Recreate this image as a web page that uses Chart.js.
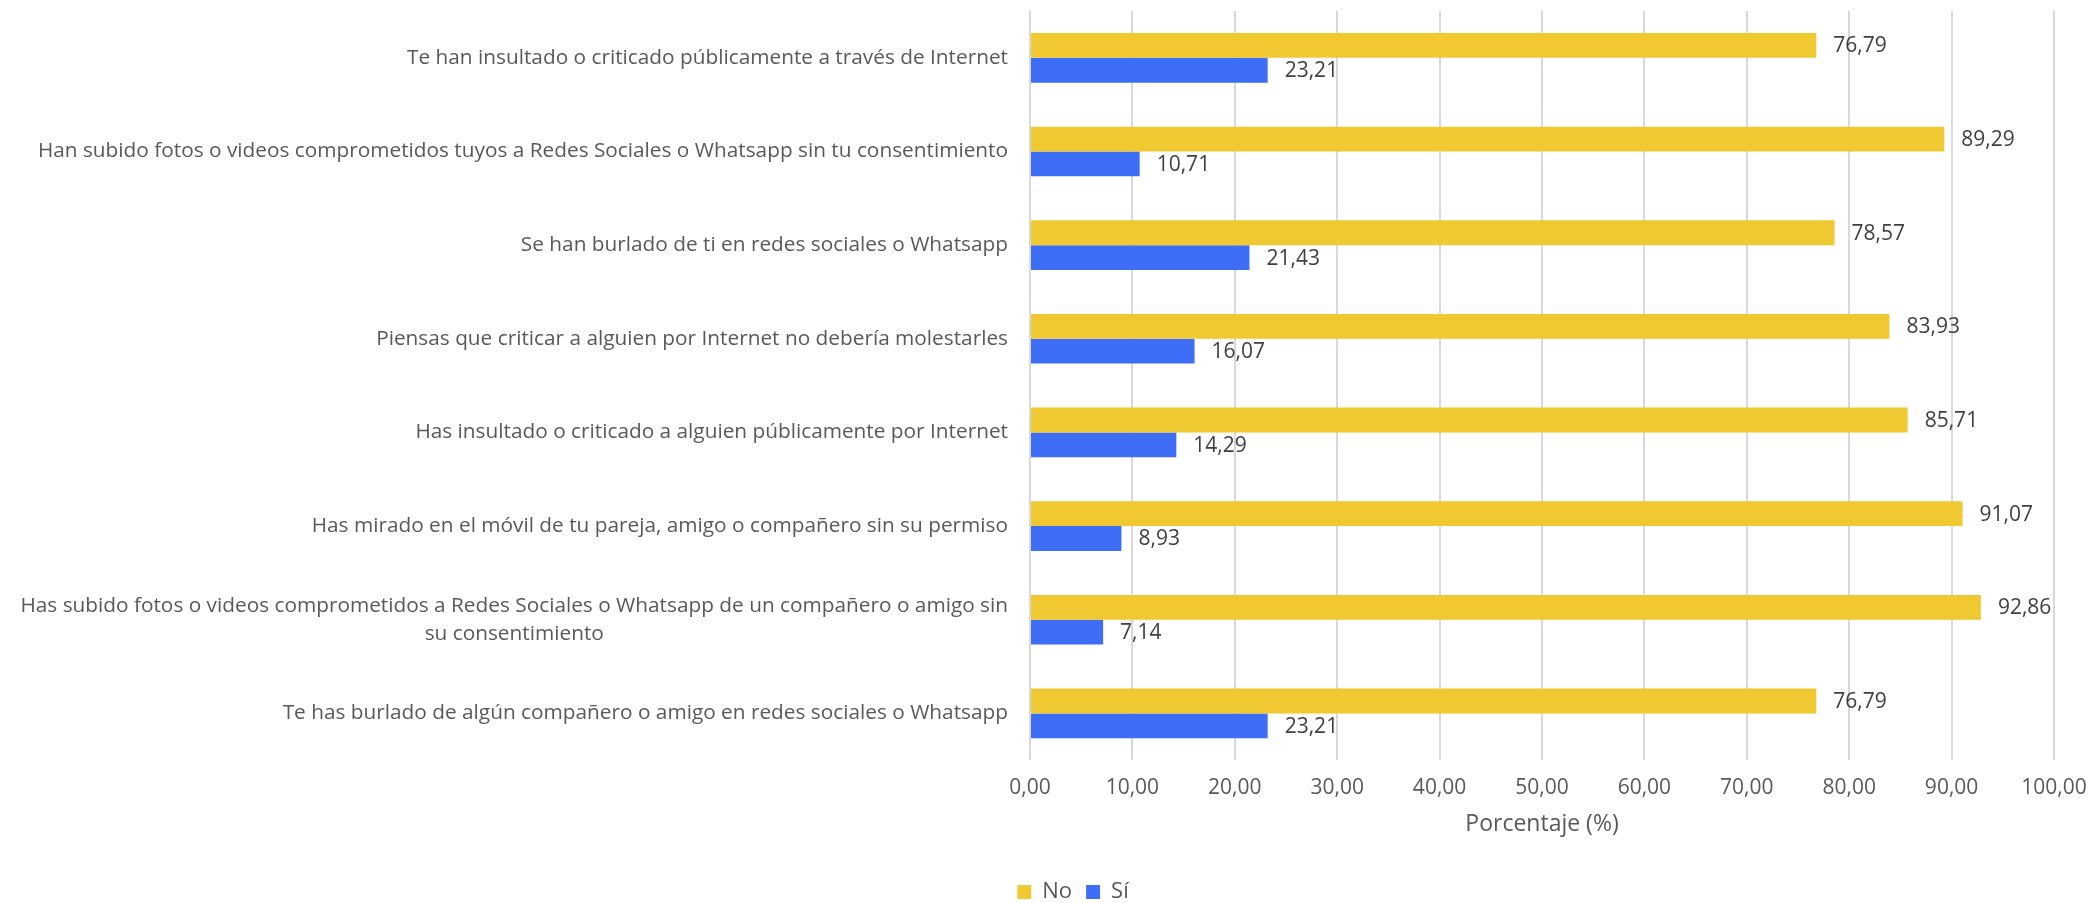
<!DOCTYPE html>
<html>
<head>
<meta charset="utf-8">
<script src="https://cdn.jsdelivr.net/npm/chart.js@4/dist/chart.umd.min.js"></script>
<style>
  body { margin: 0; background: #fff; }
</style>
</head>
<body>
<canvas id="barchart-canvas" width="2093" height="903"></canvas>
<script>
// categories, top to bottom
let categories = [
    'Te han insultado o criticado públicamente a través de Internet',
    'Han subido fotos o videos comprometidos tuyos a Redes Sociales o Whatsapp sin tu consentimiento',
    'Se han burlado de ti en redes sociales o Whatsapp',
    'Piensas que criticar a alguien por Internet no debería molestarles',
    'Has insultado o criticado a alguien públicamente por Internet',
    'Has mirado en el móvil de tu pareja, amigo o compañero sin su permiso',
    ['Has subido fotos o videos comprometidos a Redes Sociales o Whatsapp de un compañero o amigo sin', 'su consentimiento'],
    'Te has burlado de algún compañero o amigo en redes sociales o Whatsapp'
];
let noValues = [76.79, 89.29, 78.57, 83.93, 85.71, 91.07, 92.86, 76.79];
let siValues = [23.21, 10.71, 21.43, 16.07, 14.29, 8.93, 7.14, 23.21];
let xTicks = [0, 10, 20, 30, 40, 50, 60, 70, 80, 90, 100];

let fontFamily = "'Open Sans', 'Noto Sans', sans-serif";

function formatNumber(v) {
    return v.toFixed(2).replace('.', ',');
}

// category labels drawn from the y scale positions (second line centred under the first)
let categoryLabelsPlugin = {
    id: 'categoryLabels',
    afterDraw: function (chart) {
        let ctx = chart.ctx;
        let yScale = chart.scales.y;
        let rightX = chart.chartArea.left - 22;
        ctx.save();
        ctx.font = '20.8px ' + fontFamily;
        ctx.fillStyle = '#595959';
        ctx.textBaseline = 'middle';
        for (let i = 0; i < categories.length; i++) {
            let y = yScale.getPixelForValue(i);
            let label = categories[i];
            if (Array.isArray(label)) {
                let w = ctx.measureText(label[0]).width;
                let center = rightX - w / 2;
                ctx.textAlign = 'center';
                ctx.fillText(label[0], center, y - 14);
                ctx.fillText(label[1], center, y + 14);
            } else {
                ctx.textAlign = 'right';
                ctx.fillText(label, rightX, y);
            }
        }
        ctx.restore();
    }
};

// value labels at the end of each bar
let valueLabelsPlugin = {
    id: 'valueLabels',
    afterDatasetsDraw: function (chart) {
        let ctx = chart.ctx;
        ctx.save();
        ctx.font = '21px ' + fontFamily;
        ctx.fillStyle = '#404040';
        ctx.textAlign = 'left';
        ctx.textBaseline = 'middle';
        chart.data.datasets.forEach(function (ds, di) {
            let meta = chart.getDatasetMeta(di);
            meta.data.forEach(function (bar, i) {
                ctx.fillText(formatNumber(ds.data[i]), bar.x + 17, bar.y + 1);
            });
        });
        ctx.restore();
    }
};

let canvas = document.getElementById('barchart-canvas');
let context = canvas.getContext('2d');

let dataforChart = {
    labels: categories,
    datasets: [
        {
            label: 'No',
            data: noValues,
            backgroundColor: '#EFC832',
            categoryPercentage: 0.53,
            barPercentage: 1.0
        },
        {
            label: 'Sí',
            data: siValues,
            backgroundColor: '#3E6EF5',
            categoryPercentage: 0.53,
            barPercentage: 1.0
        }
    ]
};

let config = {
    type: 'bar',
    data: dataforChart,
    options: {
        indexAxis: 'y',
        responsive: false,
        animation: false,
        layout: {
            padding: { top: 11, right: 39, left: 92, bottom: -10 }
        },
        scales: {
            x: {
                min: 0,
                max: 100,
                afterBuildTicks: function (scale) {
                    scale.ticks = xTicks.map(v => ({ value: v }));
                },
                afterFit: function (scale) {
                    scale.paddingRight = 0;
                    scale.paddingLeft = 0;
                },
                grid: {
                    color: '#d9d9d9',
                    lineWidth: 2,
                    drawTicks: false
                },
                border: { display: false },
                ticks: {
                    color: '#595959',
                    font: { family: fontFamily, size: 21 },
                    padding: 15,
                    maxRotation: 0,
                    callback: function (v) { return formatNumber(v); }
                },
                title: {
                    display: true,
                    text: 'Porcentaje (%)',
                    color: '#595959',
                    font: { family: fontFamily, size: 23 },
                    padding: { top: -5, bottom: 29 }
                }
            },
            y: {
                grid: { display: false },
                border: { display: false },
                ticks: { display: false },
                afterFit: function (scale) {
                    scale.width = 938;
                }
            }
        },
        plugins: {
            legend: {
                position: 'bottom',
                labels: {
                    color: '#595959',
                    font: { family: fontFamily, size: 22 },
                    boxWidth: 14,
                    boxHeight: 14,
                    padding: 14
                }
            },
            tooltip: { enabled: false }
        }
    },
    plugins: [categoryLabelsPlugin, valueLabelsPlugin]
};

let chart = new Chart(context, config);
</script>
</body>
</html>
